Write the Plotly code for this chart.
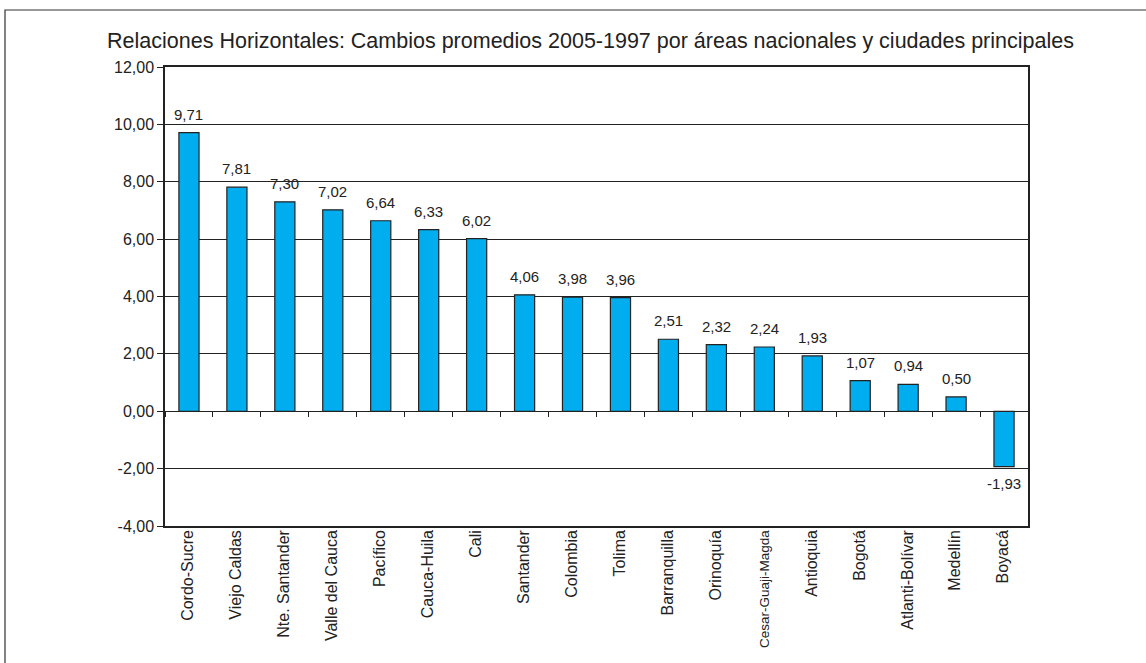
import plotly.graph_objects as go

categories = ["Cordo-Sucre", "Viejo Caldas", "Nte. Santander", "Valle del Cauca", "Pacífico",
              "Cauca-Huila", "Cali", "Santander", "Colombia", "Tolima", "Barranquilla",
              "Orinoquía", "Cesar-Guaji-Magda", "Antioquia", "Bogotá", "Atlanti-Bolívar",
              "Medellín", "Boyacá"]
values = [9.71, 7.81, 7.30, 7.02, 6.64, 6.33, 6.02, 4.06, 3.98, 3.96, 2.51,
          2.32, 2.24, 1.93, 1.07, 0.94, 0.50, -1.93]
y_ticks = [-4, -2, 0, 2, 4, 6, 8, 10, 12]

title_text = "Relaciones Horizontales: Cambios promedios 2005-1997 por áreas nacionales y ciudades principales"


def fmt(v):
    return f"{v:.2f}".replace(".", ",")


def cat_label(c):
    # the longest label is squeezed in the original; the others use the full size
    if len(c) > 16:
        return c
    return f'<span style="font-size:16px">{c}</span>'


FONT = "Liberation Sans, Arial, sans-serif"
INK = "#222222"

fig = go.Figure()
fig.add_trace(go.Bar(
    x=categories, y=values,
    marker=dict(color="#00AEEF", line=dict(color=INK, width=1.2)),
    hoverinfo="x+y", showlegend=False,
))
# invisible copy to carry the category tick marks on the zero line
fig.add_trace(go.Bar(
    x=categories, y=values, xaxis="x2", opacity=0, hoverinfo="skip",
    showlegend=False, marker=dict(color="rgba(0,0,0,0)"),
))

# value labels
for c, v in zip(categories, values):
    fig.add_annotation(
        x=c, y=v, xref="x", yref="y", text=fmt(v), showarrow=False,
        yanchor="bottom" if v >= 0 else "top",
        yshift=8 if v >= 0 else -6,
        font=dict(family=FONT, size=15, color=INK),
    )

y_min, y_max = -4, 12
zero_pos = (0 - y_min) / (y_max - y_min)

fig.update_layout(
    width=1146, height=663,
    margin=dict(l=165, r=118, t=67, b=137, autoexpand=False),
    paper_bgcolor="white", plot_bgcolor="white",
    bargap=0.58,
    title=dict(text=title_text, x=(590.5 - 165) / 863, xref="paper", xanchor="center",
               y=1 - 40 / 663, yanchor="middle",
               font=dict(family=FONT, size=21.5, color=INK)),
    font=dict(family=FONT, color=INK),
    xaxis=dict(
        type="category", categoryorder="array", categoryarray=categories,
        tickmode="array", tickvals=categories,
        ticktext=[cat_label(c) for c in categories],
        showline=True, linecolor=INK, linewidth=1.5, mirror=True,
        showgrid=False, ticks="", tickangle=-90, automargin=False,
        tickfont=dict(family=FONT, size=13.5, color=INK),
        ticklabelstandoff=-3,
    ),
    xaxis2=dict(
        type="category", categoryorder="array", categoryarray=categories,
        overlaying="x", matches="x", anchor="free", position=zero_pos,
        showline=True, linecolor=INK, linewidth=1.2, automargin=False,
        ticks="outside", ticklen=5, tickwidth=1.2, tickcolor=INK,
        tickson="boundaries", showticklabels=False, showgrid=False,
    ),
    yaxis=dict(
        range=[y_min, y_max], tickmode="array", tickvals=y_ticks,
        ticktext=[fmt(v) for v in y_ticks], automargin=False,
        showline=True, linecolor=INK, linewidth=1.5, mirror=True,
        showgrid=True, gridcolor=INK, gridwidth=1,
        zeroline=False,
        ticks="outside", ticklen=6, tickwidth=1.2, tickcolor=INK,
        tickfont=dict(family=FONT, size=16, color=INK),
    ),
)

# outer frame of the chart area (left and top edges visible in the image)
fig.add_shape(type="rect", xref="paper", yref="paper",
              x0=(5 - 165) / 863, x1=(1150 - 165) / 863,
              y0=(526 - 670) / 459, y1=(526 - 10) / 459,
              line=dict(color="#333333", width=1.2), layer="below")

fig.write_html("out.html", config={"displayModeBar": False},
               post_script="document.body.style.margin='0';")
